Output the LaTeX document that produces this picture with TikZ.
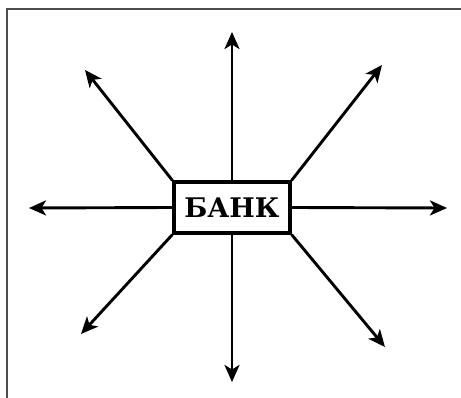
\documentclass[tikz,border=0pt]{standalone}
\usepackage{fontspec}
\setmainfont{DejaVu Serif}
\usetikzlibrary{arrows.meta}
\begin{document}
\begin{tikzpicture}[x=1pt,y=-1pt,
  ray/.style={line width=2.9pt,-{Stealth[length=17pt,width=15pt,inset=4.5pt]}},
  bankbox/.style={draw,line width=3.2pt,minimum width=116pt,minimum height=51pt,inner sep=0pt,font=\bfseries\fontsize{27}{27}\selectfont}]
\useasboundingbox (0,0) rectangle (461,398);
\draw[line width=2pt,black!70] (6.5,398) -- (6.5,9.5) -- (461,9.5);
\node[bankbox] (bank) at (232,207.5) {БАНК};
\coordinate (n) at (232,32);
\coordinate (s) at (232,382);
\coordinate (w) at (29,208);
\coordinate (e) at (447,208);
\coordinate (nw) at (85,70);
\coordinate (ne) at (382,65);
\coordinate (sw) at (81,334);
\coordinate (se) at (385,347);
\draw[ray] (bank.north) -- (n);
\draw[ray] (bank.south) -- (s);
\draw[ray] (bank.west) -- (w);
\draw[ray] (bank.east) -- (e);
\draw[ray] (bank.north west) -- (nw);
\draw[ray] (bank.north east) -- (ne);
\draw[ray] (bank.south west) -- (sw);
\draw[ray] (bank.south east) -- (se);
\end{tikzpicture}
\end{document}
